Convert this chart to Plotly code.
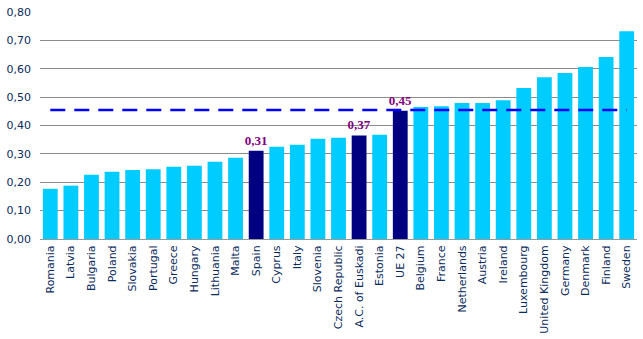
import plotly.graph_objects as go

categories = ["Romania", "Latvia", "Bulgaria", "Poland", "Slovakia", "Portugal", "Greece",
              "Hungary", "Lithuania", "Malta", "Spain", "Cyprus", "Italy", "Slovenia",
              "Czech Republic", "A.C. of Euskadi", "Estonia", "UE 27", "Belgium", "France",
              "Netherlands", "Austria", "Ireland", "Luxembourg", "United Kingdom", "Germany",
              "Denmark", "Finland", "Sweden"]
values = [0.177, 0.188, 0.226, 0.237, 0.243, 0.246, 0.255,
          0.258, 0.272, 0.286, 0.311, 0.325, 0.332, 0.353,
          0.357, 0.365, 0.367, 0.452, 0.465, 0.468,
          0.479, 0.479, 0.489, 0.532, 0.570, 0.585,
          0.606, 0.641, 0.732]
highlighted = ["Spain", "A.C. of Euskadi", "UE 27"]
value_labels = {"Spain": "0,31", "A.C. of Euskadi": "0,37", "UE 27": "0,45"}
ue_average = 0.455
y_ticks = [0.0, 0.1, 0.2, 0.3, 0.4, 0.5, 0.6, 0.7, 0.8]

light = "#00CCFF"
dark = "#000080"
colors = [dark if c in highlighted else light for c in categories]
texts = [value_labels.get(c, "") for c in categories]

fig = go.Figure()
fig.add_trace(go.Bar(
    x=categories, y=values,
    marker=dict(color=colors, line=dict(width=0)),
    text=texts, textposition="outside", constraintext="none",
    textfont=dict(family="Liberation Serif", size=13, color="#800080", weight="bold"),
    cliponaxis=False,
    width=0.72,
))
fig.add_trace(go.Scatter(
    x=[categories[0], categories[-1]], y=[ue_average, ue_average],
    mode="lines", line=dict(color="#0000FF", width=2.5, dash="15px,9px"),
    hoverinfo="skip",
))

fig.update_layout(
    width=643, height=339,
    margin=dict(l=40, r=6, t=12, b=100),
    paper_bgcolor="white", plot_bgcolor="white",
    showlegend=False,
    separators=",.",
    bargap=0.28,
    font=dict(family="DejaVu Sans", size=11, color="#0B2B5B"),
)
fig.update_xaxes(
    tickangle=-90, tickfont=dict(family="DejaVu Sans", size=11, color="#0B2B5B"),
    showline=True, linecolor="#999999", linewidth=1, showgrid=False, ticks="",
    ticklabelstandoff=1, automargin=False,
)
fig.update_yaxes(
    range=[0, 0.8], tickvals=y_ticks, tickformat=".2f",
    showgrid=True, gridcolor="#8C8C8C", gridwidth=1, zeroline=False,
    showline=False, ticks="", tickfont=dict(family="DejaVu Sans", size=11, color="#0B2B5B"),
    ticklabelstandoff=8, automargin=False,
)

fig.write_html("out.html")
